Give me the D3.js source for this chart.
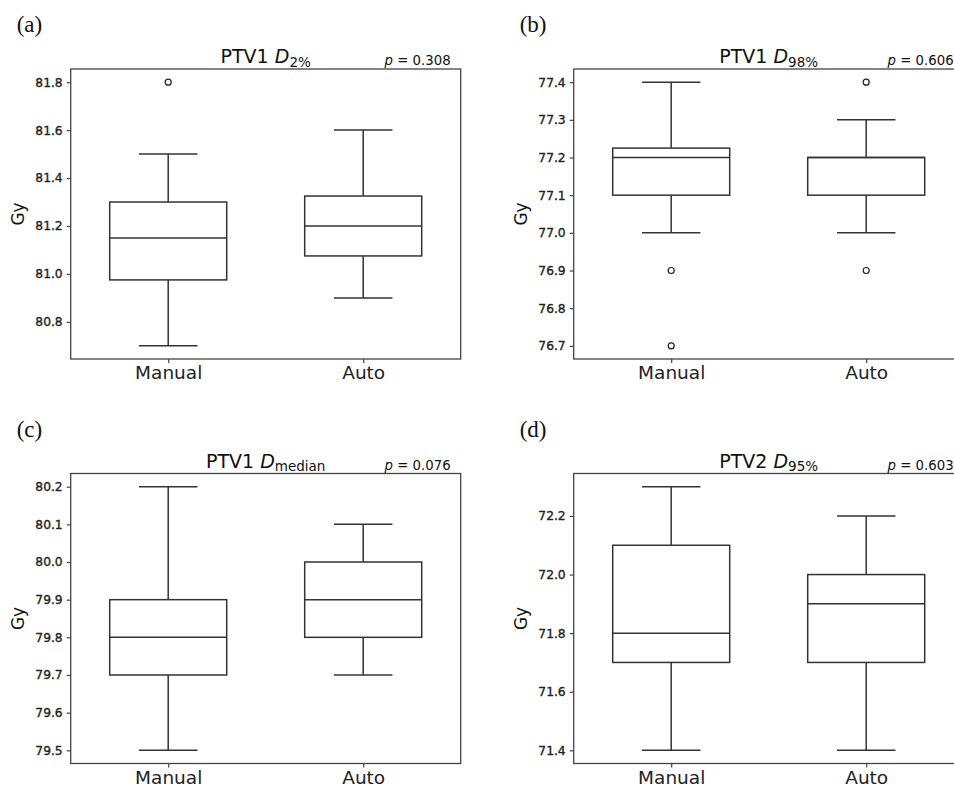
<!DOCTYPE html>
<html>
<head>
<meta charset="utf-8">
<script src="https://cdn.jsdelivr.net/npm/d3@7/dist/d3.min.js"></script>
<style>
  html, body { margin: 0; padding: 0; background: #fff; }
  svg { display: block; }
</style>
</head>
<body>
<svg id="chart" width="954" height="788"></svg>
<script>
// ---------------- data ----------------
const groups = ["Manual", "Auto"];
const panelLabels = ["(a)", "(b)", "(c)", "(d)"];
const titleMain = ["PTV1", "PTV1", "PTV1", "PTV2"];
const titleSub = ["2%", "98%", "median", "95%"];
const pValues = ["0.308", "0.606", "0.076", "0.603"];

// per panel: [Manual, Auto]
const whiskerLow  = [[80.7, 80.9],   [77.0, 77.0],   [79.5, 79.7], [71.4, 71.4]];
const q1          = [[80.975, 81.075],[77.1, 77.1],  [79.7, 79.8], [71.7, 71.7]];
const medians     = [[81.15, 81.2],  [77.2, 77.2],   [79.8, 79.9], [71.8, 71.9]];
const q3          = [[81.3, 81.325], [77.225, 77.2], [79.9, 80.0], [72.1, 72.0]];
const whiskerHigh = [[81.5, 81.6],   [77.4, 77.3],   [80.2, 80.1], [72.3, 72.2]];
const outliers    = [[[81.8], []], [[76.9, 76.7], [77.4, 76.9]], [[], []], [[], []]];

const yTicks = [
  [80.8, 81.0, 81.2, 81.4, 81.6, 81.8],
  [76.7, 76.8, 76.9, 77.0, 77.1, 77.2, 77.3, 77.4],
  [79.5, 79.6, 79.7, 79.8, 79.9, 80.0, 80.1, 80.2],
  [71.4, 71.6, 71.8, 72.0, 72.2]
];

// ---------------- layout ----------------
const svg = d3.select("#chart");
const colX = [70.7, 573.7];
const rowY = [69, 473.5];
const plotW = 390;
const plotH = 290;
const lineColor = "#333";
const spineColor = "#444";
const sans = "'DejaVu Sans', sans-serif";

panelLabels.forEach((lab, i) => {
  const left = colX[i % 2];
  const top = rowY[Math.floor(i / 2)];
  const g = svg.append("g").attr("transform", `translate(${left},${top})`);

  // y domain: data extent + 5% margin (matplotlib style)
  const allVals = [].concat(whiskerLow[i], whiskerHigh[i], outliers[i][0], outliers[i][1]);
  const lo = d3.min(allVals), hi = d3.max(allVals);
  const pad = (hi - lo) * 0.05;
  const y = d3.scaleLinear().domain([lo - pad, hi + pad]).range([plotH, 0]);
  const x = d3.scaleLinear().domain([0.5, 2.5]).range([0, plotW]);
  const boxW = x(0.6) - x(0);
  const capW = x(0.3) - x(0);

  // y axis
  const yAxis = d3.axisLeft(y).tickValues(yTicks[i]).tickFormat(d3.format(".1f")).tickSize(4).tickPadding(4);
  const ya = g.append("g").call(yAxis);
  ya.select(".domain").remove();
  ya.selectAll("line").attr("stroke", spineColor).attr("stroke-width", 1.2);
  ya.selectAll("text").attr("font-family", sans).attr("font-size", 12.3).attr("fill", "#222")
    .attr("stroke", "#222").attr("stroke-width", 0.35);

  // x axis
  const xAxis = d3.axisBottom(x).tickValues([1, 2]).tickFormat((d) => groups[d - 1]).tickSize(4).tickPadding(3);
  const xa = g.append("g").attr("transform", `translate(0,${plotH})`).call(xAxis);
  xa.select(".domain").remove();
  xa.selectAll("line").attr("stroke", spineColor).attr("stroke-width", 1.2);
  xa.selectAll("text").attr("font-family", sans).attr("font-size", 18.5).attr("fill", "#222");

  // frame
  g.append("rect").attr("x", 0).attr("y", 0).attr("width", plotW).attr("height", plotH)
    .attr("fill", "none").attr("stroke", spineColor).attr("stroke-width", 1.3);

  // boxes
  groups.forEach((grp, j) => {
    const cx = x(j + 1);
    const bg = g.append("g").attr("stroke", lineColor).attr("stroke-width", 1.5).attr("fill", "none");
    // whiskers
    bg.append("line").attr("x1", cx).attr("x2", cx).attr("y1", y(q3[i][j])).attr("y2", y(whiskerHigh[i][j]));
    bg.append("line").attr("x1", cx).attr("x2", cx).attr("y1", y(q1[i][j])).attr("y2", y(whiskerLow[i][j]));
    // caps
    bg.append("line").attr("x1", cx - capW / 2).attr("x2", cx + capW / 2).attr("y1", y(whiskerHigh[i][j])).attr("y2", y(whiskerHigh[i][j]));
    bg.append("line").attr("x1", cx - capW / 2).attr("x2", cx + capW / 2).attr("y1", y(whiskerLow[i][j])).attr("y2", y(whiskerLow[i][j]));
    // box
    bg.append("rect").attr("x", cx - boxW / 2).attr("width", boxW)
      .attr("y", y(q3[i][j])).attr("height", y(q1[i][j]) - y(q3[i][j])).attr("fill", "#fff");
    // median
    bg.append("line").attr("x1", cx - boxW / 2).attr("x2", cx + boxW / 2).attr("y1", y(medians[i][j])).attr("y2", y(medians[i][j]));
    // outliers
    outliers[i][j].forEach((v) => {
      g.append("circle").attr("cx", cx).attr("cy", y(v)).attr("r", 3)
        .attr("fill", "none").attr("stroke", "#222").attr("stroke-width", 1.2);
    });
  });

  // y label
  g.append("text").attr("transform", `translate(-52.5,${plotH / 2}) rotate(-90)`)
    .attr("text-anchor", "middle").attr("dy", "0.35em")
    .attr("font-family", sans).attr("font-size", 17).attr("fill", "#111").text("Gy");

  // title
  const t = g.append("text").attr("x", plotW / 2).attr("y", -6).attr("text-anchor", "middle")
    .attr("font-family", sans).attr("font-size", 19).attr("fill", "#111");
  t.append("tspan").text(titleMain[i] + " ");
  t.append("tspan").attr("font-style", "italic").text("D");
  t.append("tspan").attr("font-size", 13.5).attr("dy", 3.5).text(titleSub[i]);

  // p value
  const p = g.append("text").attr("x", plotW - 10).attr("y", -4).attr("text-anchor", "end")
    .attr("font-family", sans).attr("font-size", 13.3).attr("fill", "#111");
  p.append("tspan").attr("font-style", "italic").text("p");
  p.append("tspan").text(" = " + pValues[i]);

  // panel label
  svg.append("text").attr("x", left - 54).attr("y", top - 37)
    .attr("font-family", "'Liberation Serif', 'Times New Roman', serif").attr("font-size", 23)
    .attr("fill", "#111").text(lab);
});
</script>
</body>
</html>
